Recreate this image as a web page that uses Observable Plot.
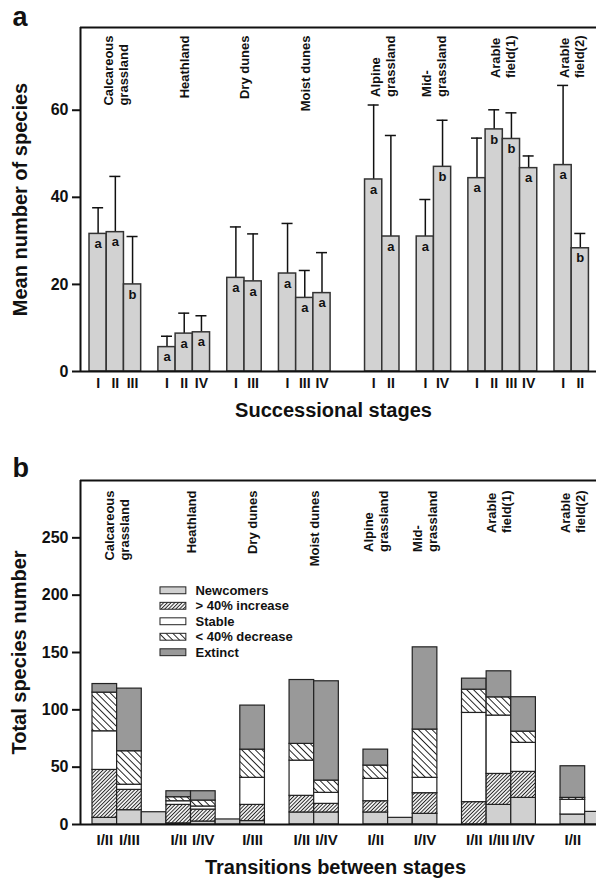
<!DOCTYPE html>
<html><head><meta charset="utf-8">
<script src="https://cdn.jsdelivr.net/npm/d3@7"></script>
<script src="https://cdn.jsdelivr.net/npm/@observablehq/plot@0.6"></script>
<style>
body{margin:0;background:#fff;font-family:"Liberation Sans",Arial,sans-serif}
#chart svg{display:block}
</style></head><body>
<svg width="0" height="0" style="position:absolute">
<defs>
<pattern id="hatchInc" width="2.6" height="2.6" patternUnits="userSpaceOnUse" patternTransform="rotate(45)">
<rect width="2.6" height="2.6" fill="#fff"/><line x1="1.3" y1="0" x2="1.3" y2="2.6" stroke="#222" stroke-width="1"/>
</pattern>
<pattern id="hatchDec" width="4.8" height="4.8" patternUnits="userSpaceOnUse" patternTransform="rotate(-45)">
<rect width="4.8" height="4.8" fill="#fff"/><line x1="2.4" y1="0" x2="2.4" y2="4.8" stroke="#222" stroke-width="1"/>
</pattern>
</defs></svg>
<div id="chart"></div>
<script>
// ---------- data ----------
const groupNames = ["Calcareous\ngrassland","Heathland","Dry dunes","Moist dunes","Alpine\ngrassland","Mid-\ngrassland","Arable\nfield(1)","Arable\nfield(2)"];

// panel a: mean number of species per successional stage
const stageGroup  = [0,0,0, 1,1,1, 2,2, 3,3,3, 4,4, 5,5, 6,6,6,6, 7,7];
const stageLabel  = ["I","II","III", "I","II","IV", "I","III", "I","III","IV", "I","II", "I","IV", "I","II","III","IV", "I","II"];
const meanSpecies = [31.6,32.0,20.0, 5.6,8.7,9.0, 21.5,20.7, 22.5,16.9,18.0, 44.1,31.0, 31.0,47.0, 44.4,55.6,53.4,46.7, 47.4,28.3];
const meanUpper   = [37.6,44.8,31.0, 8.1,13.4,12.8, 33.2,31.6, 34.0,23.2,27.3, 61.2,54.2, 39.5,57.7, 53.6,60.1,59.4,49.5, 65.7,31.7];
const sigLetter   = ["a","a","b", "a","a","a", "a","a", "a","a","a", "a","a", "a","b", "a","b","b","a", "a","b"];
const gapBeforeA  = [0,1,1,1,2,1,1,1];
const yTicksA = [0,20,40,60];

// panel b: total species number per transition, by category
const categories = ["Newcomers","> 40% increase","Stable","< 40% decrease","Extinct"];
const transGroup = [0,0,0, 1,1,1, 2, 3,3, 4,4, 5, 6,6,6, 7,7];
const transLabel = ["I/II","I/III","", "I/II","I/IV","", "I/III", "I/II","I/IV", "I/II","", "I/IV", "I/II","I/III","I/IV", "I/II",""];
const newcomers  = [5.8,12.5,10.7, 1.0,2.6,4.4, 3.0, 10.5,10.5, 10.5,5.8, 9.3, 0,17.1,23.2, 8.7,11.0];
const increase   = [41.8,17.7,0, 16.1,10.4,0, 14.1, 14.5,7.5, 9.8,0, 18.0, 19.5,27.0,22.7, 0,0];
const stable     = [33.7,4.5,0, 3.2,2.7,0, 23.6, 30.7,9.6, 19.5,0, 13.4, 77.8,50.9,25.3, 12.8,0];
const decrease   = [33.7,29.2,0, 3.5,5.2,0, 24.6, 14.6,10.7, 11.6,0, 42.1, 20.3,15.9,9.8, 1.7,0];
const extinct    = [7.5,54.6,0, 5.2,8.1,0, 38.4, 55.7,86.6, 13.9,0, 71.7, 9.6,22.7,30.0, 27.6,0];
const gapBeforeB = [0,0,0,1,1,0,1,1];
const yTicksB = [0,50,100,150,200,250];

// ---------- helpers ----------
const FONT = "Liberation Sans, Arial, sans-serif";
function slots(groups, gaps) {
  let s = -1, prev = -1;
  return groups.map(g => { s += 1; if (g !== prev) { if (prev >= 0) s += gaps[g]; prev = g; } return s; });
}
function groupCenters(groups, sl, labels) {
  return groupNames.map((_, g) => {
    const idx = groups.map((gg, i) => i).filter(i => groups[i] === g && (!labels || labels[i] !== ""));
    return (d3.min(idx, i => sl[i]) + d3.max(idx, i => sl[i]) + 1) / 2;
  });
}
const ctx = document.createElement("canvas").getContext("2d");
ctx.font = `bold 13px "Liberation Sans"`;
const maxW = name => d3.max(name.split("\n"), l => ctx.measureText(l).width);
const groupLabelMarks = (centers, topGap) => groupNames.map((name, g) =>
  Plot.text([name], {text: d => d, x: centers[g], frameAnchor: "top", dy: topGap + maxW(name),
    rotate: -90, textAnchor: "start", lineAnchor: "middle", fontSize: 13, fontWeight: "bold", lineHeight: 1.15, fill: "#111"}));

// ---------- panel a ----------
const slotsA = slots(stageGroup, gapBeforeA);
const dataA = stageLabel.map((s, i) => ({stage: s, mean: meanSpecies[i], upper: meanUpper[i], letter: sigLetter[i], slot: slotsA[i]}));
const centersA = groupCenters(stageGroup, slotsA);
const xDomA = [-0.523, 29.44];

const chartA = Plot.plot({
  width: 596, height: 430,
  marginLeft: 80, marginRight: 0, marginTop: 27, marginBottom: 59,
  style: {fontFamily: FONT, background: "white", color: "#111"},
  x: {domain: xDomA, axis: null},
  y: {domain: [0, 79]},
  marks: [
    Plot.ruleX(dataA, {x: d => d.slot + 0.5, y1: "mean", y2: "upper", stroke: "#111", strokeWidth: 1.5}),
    Plot.ruleY(dataA, {y: "upper", x1: d => d.slot + 0.18, x2: d => d.slot + 0.82, stroke: "#111", strokeWidth: 1.5}),
    Plot.rect(dataA, {x1: "slot", x2: d => d.slot + 1, y1: 0, y2: "mean", fill: "#d2d2d2", stroke: "#333", strokeWidth: 1.5}),
    Plot.text(dataA, {x: d => d.slot + 0.5, y: "mean", text: "letter", dy: 10, fontSize: 13, fontWeight: "bold", fill: "#111"}),
    Plot.text(dataA, {x: d => d.slot + 0.5, y: 0, text: "stage", dy: 12, fontSize: 14, fontWeight: "bold", fill: "#111"}),
    ...groupLabelMarks(centersA, 8),
    Plot.axisY(yTicksA, {tickSize: 8, tickPadding: 4, fontSize: 16, fontWeight: "bold", strokeWidth: 2, label: null}),
    Plot.ruleY([0], {stroke: "#111", strokeWidth: 2}),
    Plot.ruleY([79], {stroke: "#111", strokeWidth: 2}),
    Plot.ruleX([xDomA[0]], {stroke: "#111", strokeWidth: 2}),
    Plot.text(["Mean number of species"], {text: d => d, frameAnchor: "left", dx: -60, rotate: -90, textAnchor: "middle", lineAnchor: "middle", fontSize: 20, fontWeight: "bold", fill: "#111"}),
    Plot.text(["Successional stages"], {text: d => d, frameAnchor: "bottom", dy: 39, dx: -5, textAnchor: "middle", lineAnchor: "middle", fontSize: 20, fontWeight: "bold", fill: "#111"}),
    Plot.text(["a"], {text: d => d, frameAnchor: "top-left", dx: -68, dy: -2, lineAnchor: "bottom", textAnchor: "start", fontSize: 27, fontWeight: "bold", fill: "#111"})
  ]
});

// ---------- panel b ----------
const slotsB = slots(transGroup, gapBeforeB);
const series = [newcomers, increase, stable, decrease, extinct];
const dataB = [];
transLabel.forEach((t, i) => {
  let base = 0;
  series.forEach((arr, c) => {
    const v = arr[i];
    if (v > 0) dataB.push({slot: slotsB[i], cat: categories[c], y1: base, y2: base + v});
    base += v;
  });
});
const labelsB = transLabel.map((t, i) => ({t, slot: slotsB[i]})).filter(d => d.t !== "");
const centersB = groupCenters(transGroup, slotsB, transLabel);
const xDomB = [-0.487, 20.46];
const legendX = 2.76, legendBoxW = 1.05, legendTop = 203.8, legendStep = 13.5, legendBoxH = 6;
const legendRows = categories.map((c, i) => ({cat: c, y: legendTop - i * legendStep}));

const chartB = Plot.plot({
  width: 596, height: 448,
  marginLeft: 80, marginRight: 0, marginTop: 50, marginBottom: 54,
  style: {fontFamily: FONT, background: "white", color: "#111"},
  x: {domain: xDomB, axis: null},
  y: {domain: [0, 300]},
  color: {domain: categories, range: ["#d0d0d0", "url(#hatchInc)", "#ffffff", "url(#hatchDec)", "#999999"]},
  marks: [
    Plot.rect(dataB, {x1: "slot", x2: d => d.slot + 1, y1: "y1", y2: "y2", fill: "cat", stroke: "#222", strokeWidth: 1.2}),
    Plot.text(labelsB, {x: d => d.slot + 0.5, y: 0, text: "t", dy: 16, fontSize: 15, fontWeight: "bold", fill: "#111"}),
    ...groupLabelMarks(centersB, 10),
    Plot.rect(legendRows, {x1: legendX, x2: legendX + legendBoxW, y1: d => d.y - legendBoxH / 2, y2: d => d.y + legendBoxH / 2, fill: "cat", stroke: "#222", strokeWidth: 1}),
    Plot.text(legendRows, {x: legendX + legendBoxW + 0.37, y: "y", text: "cat", textAnchor: "start", fontSize: 13, fontWeight: "bold", fill: "#111"}),
    Plot.axisY(yTicksB, {tickSize: 8, tickPadding: 4, fontSize: 16, fontWeight: "bold", strokeWidth: 2, label: null}),
    Plot.ruleY([0], {stroke: "#111", strokeWidth: 2}),
    Plot.ruleY([300], {stroke: "#111", strokeWidth: 2}),
    Plot.ruleX([xDomB[0]], {stroke: "#111", strokeWidth: 2}),
    Plot.text(["Total species number"], {text: d => d, frameAnchor: "left", dx: -61, rotate: -90, textAnchor: "middle", lineAnchor: "middle", fontSize: 20, fontWeight: "bold", fill: "#111"}),
    Plot.text(["Transitions between stages"], {text: d => d, frameAnchor: "bottom", dy: 43, dx: -3, textAnchor: "middle", lineAnchor: "middle", fontSize: 20, fontWeight: "bold", fill: "#111"}),
    Plot.text(["b"], {text: d => d, frameAnchor: "top-left", dx: -68, dy: -4, lineAnchor: "bottom", textAnchor: "start", fontSize: 27, fontWeight: "bold", fill: "#111"})
  ]
});

document.getElementById("chart").append(chartA, chartB);
</script></body></html>
